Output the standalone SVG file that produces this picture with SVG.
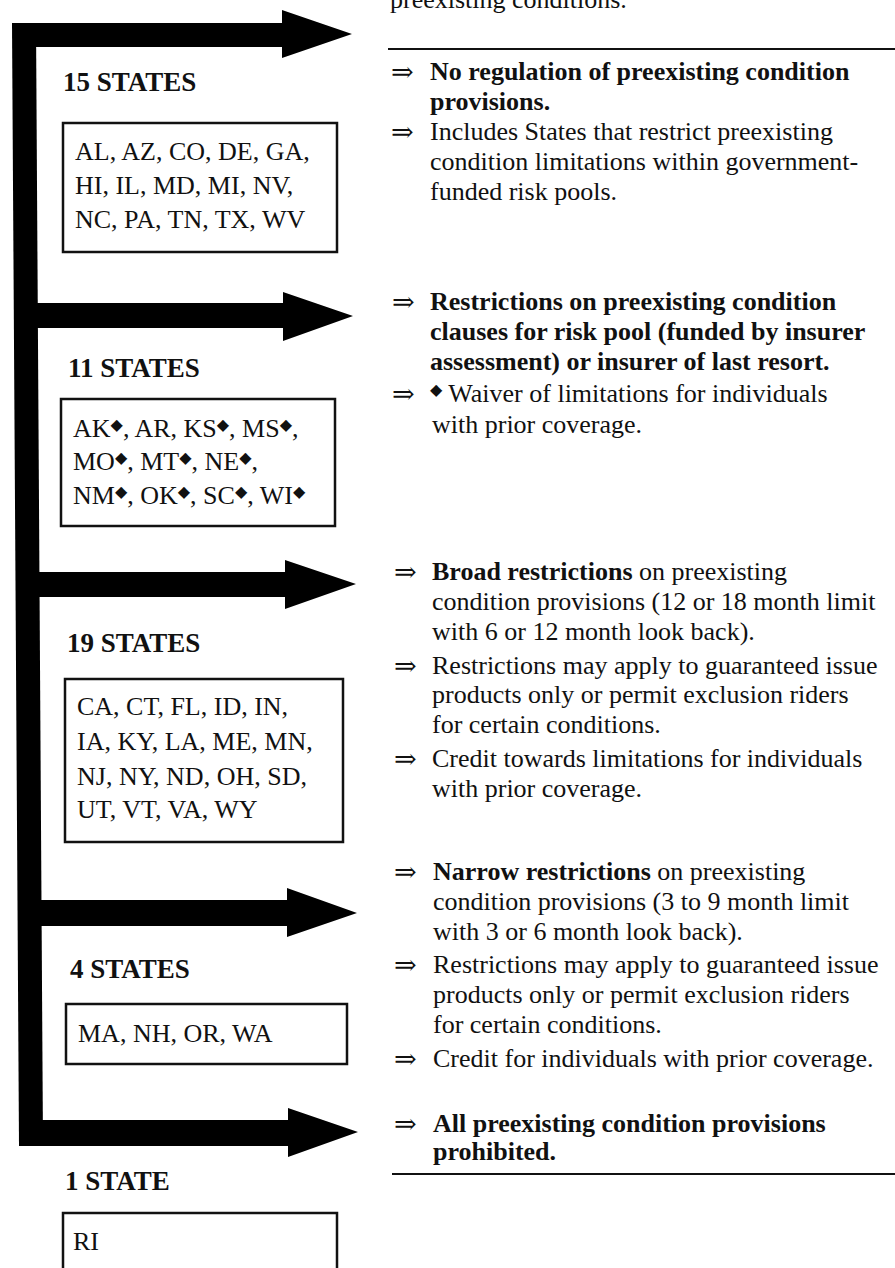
<svg xmlns="http://www.w3.org/2000/svg" width="895" height="1268" viewBox="0 0 895 1268">
<style>
text{font-family:"Liberation Serif","Times New Roman",serif;font-size:26px;fill:#111}
.b{font-weight:bold}
.t{font-size:27px}
.ar{font-family:"DejaVu Serif","DejaVu Sans",serif;font-size:27px}
.dm{font-family:"DejaVu Sans",sans-serif;font-size:16px}
.box{fill:#fff;stroke:#111;stroke-width:2.5}
.rule{stroke:#111;stroke-width:2}
.conn{fill:#000}
</style>
<rect width="895" height="1268" fill="#fff"/>
<g id="connectors" class="conn">
<path d="M12,23 L36,23 L43,1146 L19,1146 Z"/>
<path d="M30,23 H282 V10 L352,34 L282,58 V47 H30 Z"/>
<path d="M30,303 H283 V292 L353,316 L283,341 V328 H30 Z"/>
<path d="M32,572 H285 V560 L356,584 L285,609 V597 H32 Z"/>
<path d="M35,900 H287 V888 L357,913 L287,937 V926 H35 Z"/>
<path d="M19,1120 H288 V1108 L358,1132 L288,1157 V1146 H19 Z"/>
</g>
<g id="node-15">
<text class="b t" x="63" y="91">15 STATES</text>
<rect class="box" x="63" y="123" width="274" height="129"/>
<text x="75" y="160">AL, AZ, CO, DE, GA,</text>
<text x="75" y="194">HI, IL, MD, MI, NV,</text>
<text x="75" y="228">NC, PA, TN, TX, WV</text>
</g>
<g id="node-11">
<text class="b t" x="68" y="377">11 STATES</text>
<rect class="box" x="61" y="399" width="274" height="127"/>
<text x="73" y="437">AK<tspan class="dm" dy="-7">◆</tspan><tspan dy="7">, AR, KS</tspan><tspan class="dm" dy="-7">◆</tspan><tspan dy="7">, MS</tspan><tspan class="dm" dy="-7">◆</tspan><tspan dy="7">,</tspan></text>
<text x="73" y="470">MO<tspan class="dm" dy="-7">◆</tspan><tspan dy="7">, MT</tspan><tspan class="dm" dy="-7">◆</tspan><tspan dy="7">, NE</tspan><tspan class="dm" dy="-7">◆</tspan><tspan dy="7">,</tspan></text>
<text x="73" y="504">NM<tspan class="dm" dy="-7">◆</tspan><tspan dy="7">, OK</tspan><tspan class="dm" dy="-7">◆</tspan><tspan dy="7">, SC</tspan><tspan class="dm" dy="-7">◆</tspan><tspan dy="7">, WI</tspan><tspan class="dm" dy="-7">◆</tspan></text>
</g>
<g id="node-19">
<text class="b t" x="67" y="652">19 STATES</text>
<rect class="box" x="65" y="679" width="278" height="163"/>
<text x="77" y="715">CA, CT, FL, ID, IN,</text>
<text x="77" y="750">IA, KY, LA, ME, MN,</text>
<text x="77" y="785">NJ, NY, ND, OH, SD,</text>
<text x="77" y="818">UT, VT, VA, WY</text>
</g>
<g id="node-4">
<text class="b t" x="70" y="978">4 STATES</text>
<rect class="box" x="66" y="1004" width="281" height="60"/>
<text x="78" y="1042">MA, NH, OR, WA</text>
</g>
<g id="node-1">
<text class="b t" x="65" y="1190">1 STATE</text>
<rect class="box" x="63" y="1213" width="274" height="70"/>
<text x="73" y="1250">RI</text>
</g>
<g id="desc-top">
<text x="390" y="8">preexisting conditions.</text>
<line class="rule" x1="388" y1="49" x2="895" y2="49"/>
</g>
<g id="desc-15">
<text class="ar" x="391" y="81">⇒</text>
<text class="b" x="430" y="80">No regulation of preexisting condition</text>
<text class="b" x="430" y="110">provisions.</text>
<text class="ar" x="391" y="141">⇒</text>
<text x="430" y="140">Includes States that restrict preexisting</text>
<text x="430" y="170">condition limitations within government-</text>
<text x="430" y="200">funded risk pools.</text>
</g>
<g id="desc-11">
<text class="ar" x="392" y="311">⇒</text>
<text class="b" x="430" y="310">Restrictions on preexisting condition</text>
<text class="b" x="430" y="340">clauses for risk pool (funded by insurer</text>
<text class="b" x="430" y="370">assessment) or insurer of last resort.</text>
<text class="ar" x="392" y="403">⇒</text>
<text x="430" y="402"><tspan class="dm" dy="-7">◆</tspan><tspan dy="7"> Waiver of limitations for individuals</tspan></text>
<text x="432" y="433">with prior coverage.</text>
</g>
<g id="desc-19">
<text class="ar" x="394" y="581">⇒</text>
<text x="432" y="580"><tspan class="b">Broad restrictions</tspan> on preexisting</text>
<text x="432" y="610">condition provisions (12 or 18 month limit</text>
<text x="432" y="640">with 6 or 12 month look back).</text>
<text class="ar" x="394" y="675">⇒</text>
<text x="432" y="674">Restrictions may apply to guaranteed issue</text>
<text x="432" y="703">products only or permit exclusion riders</text>
<text x="432" y="733">for certain conditions.</text>
<text class="ar" x="394" y="768">⇒</text>
<text x="432" y="767">Credit towards limitations for individuals</text>
<text x="432" y="797">with prior coverage.</text>
</g>
<g id="desc-4">
<text class="ar" x="394" y="881">⇒</text>
<text x="433" y="880"><tspan class="b">Narrow restrictions</tspan> on preexisting</text>
<text x="433" y="910">condition provisions (3 to 9 month limit</text>
<text x="433" y="940">with 3 or 6 month look back).</text>
<text class="ar" x="394" y="974">⇒</text>
<text x="433" y="973">Restrictions may apply to guaranteed issue</text>
<text x="433" y="1003">products only or permit exclusion riders</text>
<text x="433" y="1033">for certain conditions.</text>
<text class="ar" x="394" y="1068">⇒</text>
<text x="433" y="1067">Credit for individuals with prior coverage.</text>
</g>
<g id="desc-1">
<text class="ar" x="394" y="1133">⇒</text>
<text class="b" x="433" y="1132">All preexisting condition provisions</text>
<text class="b" x="433" y="1160">prohibited.</text>
<line class="rule" x1="392" y1="1174" x2="895" y2="1174"/>
</g>
</svg>
